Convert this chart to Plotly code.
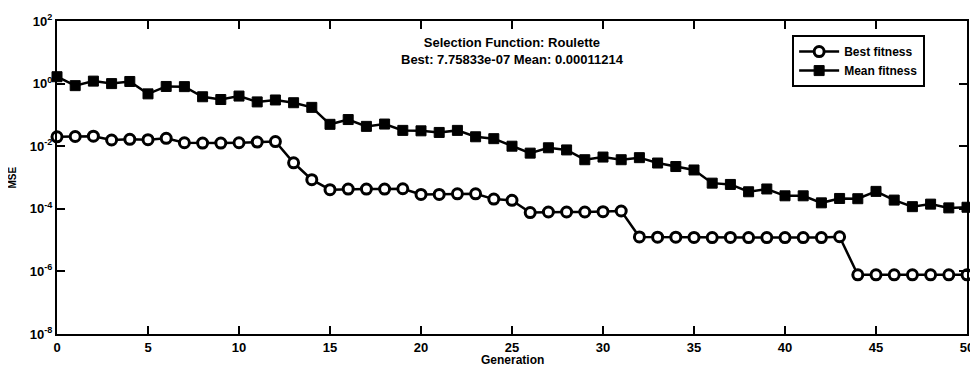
import plotly.graph_objects as go

generations = list(range(51))

best_fitness = [
    2.0e-2, 2.04e-2, 2.09e-2, 1.58e-2, 1.66e-2, 1.62e-2, 1.78e-2, 1.29e-2, 1.26e-2, 1.26e-2,
    1.29e-2, 1.35e-2, 1.41e-2, 2.95e-3, 8.5e-4, 4.07e-4, 4.27e-4, 4.27e-4, 4.27e-4, 4.37e-4,
    2.88e-4, 2.88e-4, 3.02e-4, 3.02e-4, 2.04e-4, 1.86e-4, 7.6e-5, 7.9e-5, 7.9e-5, 7.9e-5,
    8.1e-5, 8.5e-5, 1.26e-5, 1.24e-5, 1.24e-5, 1.22e-5, 1.2e-5, 1.22e-5, 1.2e-5, 1.2e-5,
    1.2e-5, 1.2e-5, 1.2e-5, 1.28e-5, 7.76e-7, 7.76e-7, 7.76e-7, 7.76e-7, 7.76e-7, 7.76e-7,
    7.76e-7,
]

mean_fitness = [
    1.66, 0.86, 1.20, 1.00, 1.17, 0.47, 0.81, 0.80, 0.38, 0.31,
    0.40, 0.26, 0.30, 0.245, 0.174, 0.050, 0.071, 0.043, 0.051, 0.032,
    0.031, 0.0275, 0.032, 0.020, 0.0174, 0.010, 6.0e-3, 8.9e-3, 7.6e-3, 3.7e-3,
    4.5e-3, 3.7e-3, 4.3e-3, 2.9e-3, 2.24e-3, 1.74e-3, 6.6e-4, 6.0e-4, 3.5e-4, 4.3e-4,
    2.6e-4, 2.6e-4, 1.55e-4, 2.14e-4, 2.1e-4, 3.6e-4, 1.9e-4, 1.17e-4, 1.41e-4, 1.07e-4,
    1.12e-4,
]

x_ticks = [0, 5, 10, 15, 20, 25, 30, 35, 40, 45, 50]
y_tick_vals = [1e-8, 1e-6, 1e-4, 1e-2, 1e0, 1e2]
y_tick_text = ["10<sup>-8</sup>", "10<sup>-6</sup>", "10<sup>-4</sup>",
               "10<sup>-2</sup>", "10<sup>0</sup>", "10<sup>2</sup>"]

title_line1 = "Selection Function: Roulette"
title_line2 = "Best: 7.75833e-07 Mean: 0.00011214"

FONT = "Liberation Sans, Arial, sans-serif"

fig = go.Figure()
fig.add_trace(go.Scatter(
    x=generations, y=best_fitness, name="<b>Best fitness</b>",
    mode="lines+markers", cliponaxis=False,
    line=dict(color="black", width=2.5),
    marker=dict(symbol="circle", size=10, color="white",
                line=dict(color="black", width=3)),
))
fig.add_trace(go.Scatter(
    x=generations, y=mean_fitness, name="<b>Mean fitness</b>",
    mode="lines+markers", cliponaxis=False,
    line=dict(color="black", width=2.5),
    marker=dict(symbol="square", size=10, color="black",
                line=dict(color="black", width=1)),
))

# The page body adds an 8px offset, so the figure is 8px smaller on each axis.
fig.update_layout(
    width=970, height=359,
    margin=dict(l=49, r=4, t=11, b=33),
    paper_bgcolor="white", plot_bgcolor="white",
    font=dict(family=FONT, size=12, color="black"),
    showlegend=True,
    legend=dict(
        x=0.954, y=0.955, xanchor="right", yanchor="top",
        bgcolor="white", bordercolor="black", borderwidth=2,
        font=dict(family=FONT, size=12, color="black"),
        tracegroupgap=0, itemwidth=40,
    ),
    annotations=[
        dict(text="<b>" + title_line1 + "<br>" + title_line2 + "</b>",
             xref="paper", yref="paper", x=0.5, y=0.962,
             xanchor="center", yanchor="top", showarrow=False,
             font=dict(family=FONT, size=13, color="black")),
        dict(text="<b>Generation</b>", xref="paper", yref="paper",
             x=0.5, y=0, yshift=-17, xanchor="center", yanchor="top",
             showarrow=False, font=dict(family=FONT, size=12, color="black")),
        dict(text="<b>MSE</b>", xref="paper", yref="paper",
             x=0, xshift=-45, y=0.5, textangle=-90,
             xanchor="center", yanchor="middle",
             showarrow=False, font=dict(family=FONT, size=10, color="black")),
    ],
)

fig.update_xaxes(
    range=[0, 50], tickvals=x_ticks,
    ticktext=["<b>%d</b>" % v for v in x_ticks],
    ticks="inside", ticklen=8, tickwidth=2, tickcolor="black",
    showline=True, linecolor="black", linewidth=2, mirror="ticks",
    showgrid=False, zeroline=False, ticklabeloverflow="allow",
    tickfont=dict(family=FONT, size=13, color="black"),
)
fig.update_yaxes(
    type="log", range=[-8, 2], tickvals=y_tick_vals,
    ticktext=["<b>" + t + "</b>" for t in y_tick_text],
    ticks="inside", ticklen=8, tickwidth=2, tickcolor="black",
    showline=True, linecolor="black", linewidth=2, mirror="ticks",
    showgrid=False, zeroline=False, ticklabeloverflow="allow",
    tickfont=dict(family=FONT, size=13, color="black"),
)

fig.write_html("out.html")
